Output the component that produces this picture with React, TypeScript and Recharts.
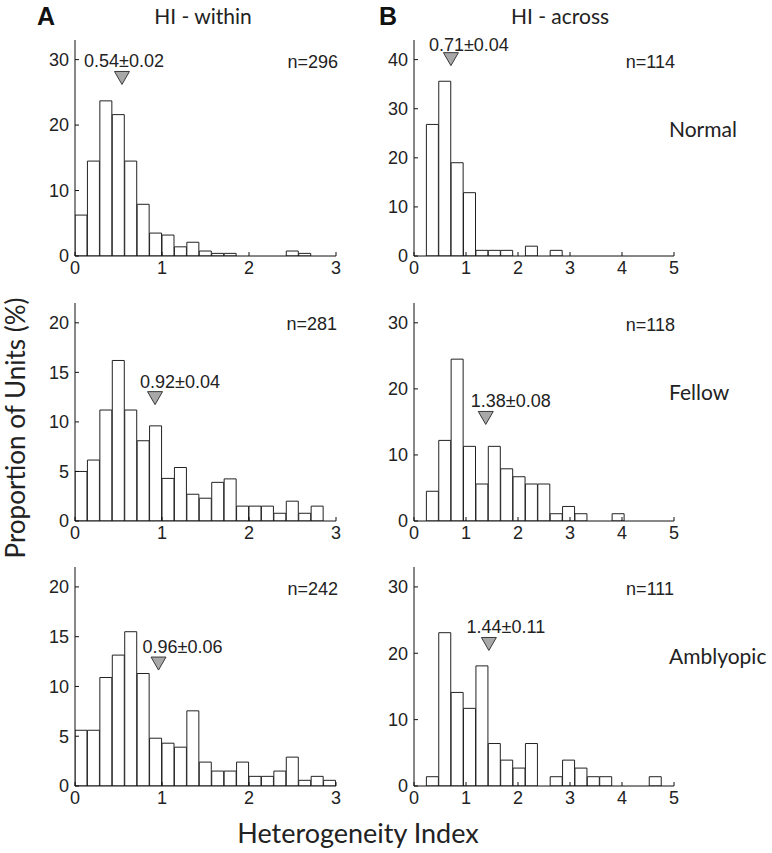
import React from 'react';
import { ComposedChart, Bar, XAxis, YAxis, ReferenceDot } from 'recharts';

// Bin centres (HI-within: 21 bins of 1/7 over 0–3; HI-across: 21 bins of 5/21 over 0–5)
const withinBins = [0.0714, 0.2143, 0.3571, 0.5, 0.6429, 0.7857, 0.9286, 1.0714, 1.2143, 1.3571, 1.5, 1.6429, 1.7857, 1.9286, 2.0714, 2.2143, 2.3571, 2.5, 2.6429, 2.7857, 2.9286];
const acrossBins = [0.119, 0.357, 0.595, 0.833, 1.071, 1.31, 1.548, 1.786, 2.024, 2.262, 2.5, 2.738, 2.976, 3.214, 3.452, 3.69, 3.929, 4.167, 4.405, 4.643, 4.881];

// Proportion of units (%) per bin
const withinNormal = [6.25, 14.5, 23.7, 21.6, 14.5, 7.9, 3.5, 3.2, 1.4, 2.1, 0.76, 0.4, 0.4, 0, 0, 0, 0, 0.76, 0.4, 0, 0];
const withinFellow = [5.0, 6.15, 11.2, 16.2, 11.2, 8.1, 9.6, 4.3, 5.4, 2.7, 2.3, 3.9, 4.25, 1.5, 1.5, 1.5, 0.78, 2.0, 0.78, 1.5, 0];
const withinAmblyopic = [5.6, 5.6, 10.9, 13.15, 15.5, 11.3, 4.8, 4.3, 3.9, 7.55, 2.4, 1.5, 1.5, 2.4, 0.97, 0.97, 1.5, 2.9, 0.57, 0.97, 0.57];
const acrossNormal = [0, 26.8, 35.6, 19.0, 12.9, 1.15, 1.15, 1.15, 0, 2.0, 0, 1.15, 0, 0, 0, 0, 0, 0, 0, 0, 0];
const acrossFellow = [0, 4.5, 12.2, 24.5, 11.3, 5.6, 11.3, 7.9, 6.7, 5.6, 5.6, 1.1, 2.2, 1.1, 0, 0, 1.1, 0, 0, 0, 0];
const acrossAmblyopic = [0, 1.4, 23.1, 14.1, 11.7, 18.1, 6.4, 3.9, 2.7, 6.4, 0, 1.4, 3.9, 2.7, 1.4, 1.4, 0, 0, 0, 1.4, 0];

// Mean ± SEM markers
const meanValues = [0.54, 0.71, 0.92, 1.38, 0.96, 1.44];
const meanLabels = ['0.54\u00B10.02', '0.71\u00B10.04', '0.92\u00B10.04', '1.38\u00B10.08', '0.96\u00B10.06', '1.44\u00B10.11'];
const markerHeights = [27.2, 40.1, 12.4, 15.6, 12.3, 21.4];
const nLabels = ['n=296', 'n=114', 'n=281', 'n=118', 'n=242', 'n=111'];

const withinTicks = [0, 1, 2, 3];
const acrossTicks = [0, 1, 2, 3, 4, 5];

const TICK_FONT = '"Liberation Sans", Arial, Helvetica, sans-serif';
const TITLE_FONT = 'Lato, "Open Sans", sans-serif';

type Panel = {
  bins: number[];
  values: number[];
  xMax: number;
  xTicks: number[];
  yMax: number;
  yTicks: number[];
  left: number;
  top: number;
  w: number;
  h: number;
  idx: number;
  dx: number;
  dy: number;
};

const panels: Panel[] = [
  { bins: withinBins, values: withinNormal, xMax: 3, xTicks: withinTicks, yMax: 33, yTicks: [0, 10, 20, 30], left: 75, top: 40, w: 261, h: 216, idx: 0, dx: 2, dy: -11 },
  { bins: acrossBins, values: acrossNormal, xMax: 5, xTicks: acrossTicks, yMax: 44, yTicks: [0, 10, 20, 30, 40], left: 414, top: 40, w: 260, h: 216, idx: 1, dx: 18, dy: -8.5 },
  { bins: withinBins, values: withinFellow, xMax: 3, xTicks: withinTicks, yMax: 22, yTicks: [0, 5, 10, 15, 20], left: 75, top: 303, w: 261, h: 218, idx: 2, dx: 25, dy: -10.2 },
  { bins: acrossBins, values: acrossFellow, xMax: 5, xTicks: acrossTicks, yMax: 33, yTicks: [0, 10, 20, 30], left: 414, top: 303, w: 260, h: 218, idx: 3, dx: 25, dy: -10.5 },
  { bins: withinBins, values: withinAmblyopic, xMax: 3, xTicks: withinTicks, yMax: 22, yTicks: [0, 5, 10, 15, 20], left: 75, top: 567, w: 261, h: 219, idx: 4, dx: 24, dy: -11 },
  { bins: acrossBins, values: acrossAmblyopic, xMax: 5, xTicks: acrossTicks, yMax: 33, yTicks: [0, 10, 20, 30], left: 414, top: 567, w: 260, h: 219, idx: 5, dx: 17, dy: -10.5 },
];

const YW = 45;
const TOPM = 10;
const RIGHTM = 15;
const XH = 35;

const makeMarker = (label: string, dx: number, dy: number) => (props: any) => {
  const { cx, cy } = props;
  return (
    <g>
      <polygon
        points={`${cx - 7.5},${cy - 6.5} ${cx + 7.5},${cy - 6.5} ${cx},${cy + 6.5}`}
        fill="#a8a8a8"
        stroke="#3a3a3a"
        strokeWidth={1}
      />
      <text x={cx + dx} y={cy + dy} textAnchor="middle" fontSize={18} fontFamily={TICK_FONT} fill="#222">
        {label}
      </text>
    </g>
  );
};

const HistPanel = ({ p }: { p: Panel }) => {
  const data = p.bins.map((b, i) => ({ center: b, v: p.values[i] }));
  const width = YW + p.w + RIGHTM;
  const height = TOPM + p.h + XH;
  return (
    <div style={{ position: 'absolute', left: p.left - YW, top: p.top - TOPM }}>
      <ComposedChart
        width={width}
        height={height}
        data={data}
        margin={{ top: TOPM, right: RIGHTM, bottom: 0, left: 0 }}
        barCategoryGap={0}
        barGap={0}
      >
        <XAxis
          dataKey="center"
          type="number"
          domain={[0, p.xMax]}
          ticks={p.xTicks}
          allowDataOverflow
          height={XH}
          axisLine={{ stroke: '#111', strokeWidth: 1 }}
          tickLine={{ stroke: '#111', strokeWidth: 1 }}
          tickSize={-4}
          tickMargin={9}
          tick={{ fontSize: 18, fill: '#222', fontFamily: TICK_FONT }}
        />
        <YAxis
          type="number"
          domain={[0, p.yMax]}
          ticks={p.yTicks}
          allowDataOverflow
          width={YW}
          axisLine={{ stroke: '#111', strokeWidth: 1 }}
          tickLine={{ stroke: '#111', strokeWidth: 1 }}
          tickSize={-4}
          tickMargin={10}
          tick={{ fontSize: 18, fill: '#222', fontFamily: TICK_FONT }}
        />
        <Bar dataKey="v" fill="#ffffff" stroke="#222" strokeWidth={1} isAnimationActive={false} />
        <ReferenceDot
          x={meanValues[p.idx]}
          y={markerHeights[p.idx]}
          r={7}
          ifOverflow="visible"
          shape={makeMarker(meanLabels[p.idx], p.dx, p.dy)}
        />
      </ComposedChart>
    </div>
  );
};

const nPos = [
  { x: 338, y: 67.5 },
  { x: 675, y: 68 },
  { x: 337, y: 330 },
  { x: 675, y: 331 },
  { x: 338, y: 595 },
  { x: 674, y: 595 },
];

export default function App() {
  return (
    <div style={{ position: 'absolute', left: 0, top: 0, width: 772, height: 853, background: '#fff' }}>
      {panels.map((p) => (
        <HistPanel key={p.idx} p={p} />
      ))}
      <svg width={772} height={853} style={{ position: 'absolute', left: 0, top: 0, pointerEvents: 'none' }}>
        <text x={37} y={25} fontSize={25} fontWeight="bold" fontFamily={TICK_FONT} fill="#111">A</text>
        <text x={379} y={25} fontSize={25} fontWeight="bold" fontFamily={TICK_FONT} fill="#111">B</text>
        <text x={203} y={24} fontSize={21} textAnchor="middle" fontFamily={TITLE_FONT} fill="#222">HI - within</text>
        <text x={560} y={24} fontSize={21} textAnchor="middle" fontFamily={TITLE_FONT} fill="#222">HI - across</text>
        {nLabels.map((t, i) => (
          <text key={t} x={nPos[i].x} y={nPos[i].y} textAnchor="end" fontSize={18} fontFamily={TICK_FONT} fill="#222">{t}</text>
        ))}
        <text x={669} y={137} fontSize={21} fontFamily={TITLE_FONT} fill="#222">Normal</text>
        <text x={669} y={400} fontSize={21} fontFamily={TITLE_FONT} fill="#222">Fellow</text>
        <text x={669} y={664} fontSize={21} fontFamily={TITLE_FONT} fill="#222">Amblyopic</text>
        <text
          x={0}
          y={0}
          transform="translate(25,428) rotate(-90)"
          textAnchor="middle"
          fontSize={26}
          fontFamily={TITLE_FONT}
          fill="#222"
        >
          Proportion of Units (%)
        </text>
        <text x={358} y={843} textAnchor="middle" fontSize={27} fontFamily={TITLE_FONT} fill="#222">Heterogeneity Index</text>
      </svg>
    </div>
  );
}
